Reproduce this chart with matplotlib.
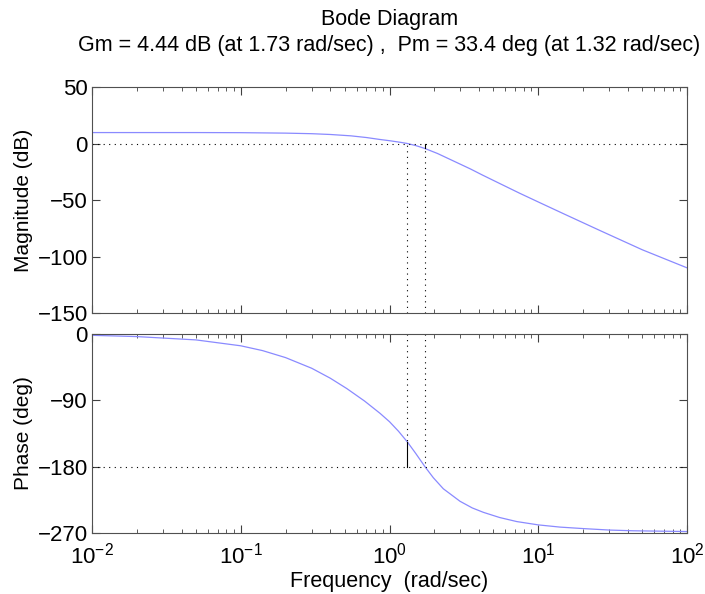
import numpy as np
import matplotlib.pyplot as plt

plt.rcParams['font.family'] = ['Liberation Sans', 'DejaVu Sans']
plt.rcParams['mathtext.fontset'] = 'custom'
plt.rcParams['mathtext.rm'] = 'Liberation Sans'
plt.rcParams['mathtext.it'] = 'Liberation Sans'

# values
mag_w = [0.01, 0.05, 0.1, 0.2, 0.3, 0.4, 0.55, 0.7, 0.86, 1.0, 1.18, 1.32, 1.5, 1.73,
         2.1, 2.55, 3.5, 4.2, 5.53, 7.5, 10.3, 15, 26, 50, 100]
mag_db = [9.7, 9.7, 9.6, 9.2, 8.7, 8.0, 6.8, 5.3, 3.6, 2.5, 1.1, 0.0, -1.8, -4.4,
          -8.8, -14, -22.5, -27.8, -35.5, -44, -52.5, -62.5, -77, -94, -110]

ph_w = [0.01, 0.02, 0.05, 0.1, 0.14, 0.2, 0.3, 0.4, 0.516, 0.68, 0.863, 1.0, 1.15, 1.32,
        1.5, 1.73, 1.97, 2.3, 2.98, 3.6, 4.28, 5.5, 7.17, 10, 14, 20, 30, 43.5, 100]
ph_deg = [-1.8, -3.5, -8, -16, -22.5, -32, -46.5, -60, -74, -91, -107.6, -119, -132, -146.6,
          -162, -180, -195, -210, -227, -236, -242, -249, -254.5, -259, -262, -264, -266, -267, -268]

gm_db = 4.44
gm_w = 1.73
pm_deg = 33.4
pm_w = 1.32

mag_ticks = [50, 0, -50, -100, -150]
ph_ticks = [0, -90, -180, -270]

curve_col = '#8a8aff'
dots = (0, (1, 4))

fig = plt.figure(figsize=(7.05, 5.94), dpi=100)
ax1 = fig.add_axes([0.1305, 0.473, 0.844, 0.3805])
ax2 = fig.add_axes([0.1305, 0.1027, 0.844, 0.335])

# magnitude
ax1.semilogx(mag_w, mag_db, color=curve_col, lw=0.9)
ax1.axhline(0, color='k', ls=dots, lw=0.8)
mag_at_gm = np.interp(np.log10(gm_w), np.log10(mag_w), mag_db)
ax1.plot([pm_w, pm_w], [-150, 0], color='k', ls=dots, lw=0.8)
ax1.plot([gm_w, gm_w], [-150, mag_at_gm], color='k', ls=dots, lw=0.8)
ax1.plot([gm_w, gm_w], [mag_at_gm, 0], color='k', lw=0.8)
ax1.set_ylim(-150, 50)
ax1.set_yticks(mag_ticks)
ax1.set_ylabel('Magnitude (dB)', fontsize=15)
ax1.tick_params(labelbottom=False)

# phase
ax2.semilogx(ph_w, ph_deg, color=curve_col, lw=0.9)
ax2.axhline(-180, color='k', ls=dots, lw=0.8)
ax2.plot([pm_w, pm_w], [0, -180 + pm_deg], color='k', ls=dots, lw=0.8)
ax2.plot([pm_w, pm_w], [-180 + pm_deg, -180], color='k', lw=0.8)
ax2.plot([gm_w, gm_w], [0, -180], color='k', ls=dots, lw=0.8)
ax2.set_ylim(-270, 0)
ax2.set_yticks(ph_ticks)
ax2.set_ylabel('Phase (deg)', fontsize=15)
ax2.set_xlabel('Frequency  (rad/sec)', fontsize=15.5, labelpad=2)

for ax in (ax1, ax2):
    ax.set_xlim(0.01, 100)
    ax.tick_params(which='both', direction='in', top=True, right=True,
                   labelsize=16, color='#404040')
    ax.tick_params(which='major', length=6, width=0.8)
    ax.tick_params(which='minor', length=3, width=0.6)
    ax.tick_params(axis='x', pad=7)
    ax.tick_params(axis='y', pad=3)
    for s in ax.spines.values():
        s.set_color('#505050')
        s.set_linewidth(0.8)
    ax.yaxis.set_label_coords(-0.1, 0.5)

fig.text(0.5525, 0.968, 'Bode Diagram', ha='center', va='center', fontsize=15.5)
fig.text(0.5525, 0.924,
         f'Gm = {gm_db:.2f} dB (at {gm_w:.2f} rad/sec) ,  Pm = {pm_deg:.1f} deg (at {pm_w:.2f} rad/sec)',
         ha='center', va='center', fontsize=15.5)

fig.savefig('out.png', dpi=100)
